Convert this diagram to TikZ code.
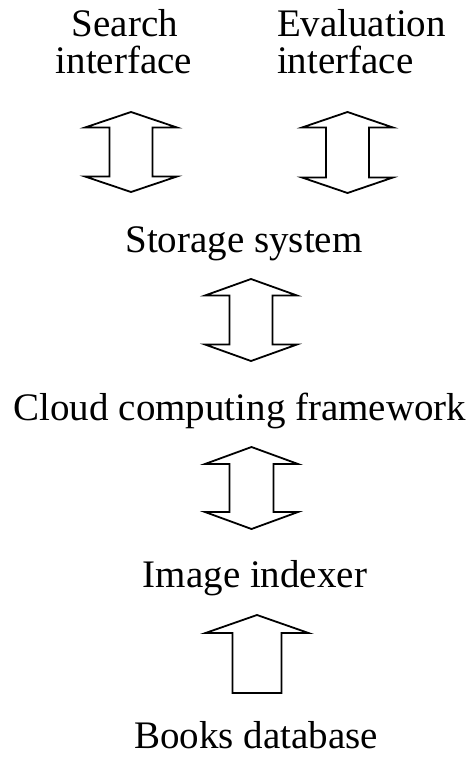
\documentclass[tikz,border=0pt]{standalone}
\usepackage{fontspec}
\setmainfont{Liberation Serif}
\tikzset{
  lbl/.style={inner sep=0pt, outer sep=0pt, font=\fontsize{39}{44}\selectfont},
  blockarrow/.style={draw=black, line width=1.8pt, fill=white, line join=miter}
}
% double arrow: cx, top, bottom, shaft half, head half, head length
\newcommand{\udblarrow}[6]{%
  \draw[blockarrow] ({#1-#4},{#2+#6}) -- ({#1-#5},{#2+#6}) -- (#1,#2) -- ({#1+#5},{#2+#6}) -- ({#1+#4},{#2+#6})
    -- ({#1+#4},{#3-#6}) -- ({#1+#5},{#3-#6}) -- (#1,#3) -- ({#1-#5},{#3-#6}) -- ({#1-#4},{#3-#6}) -- cycle;}
% single up arrow: cx, top, bottom, shaft half, head half, head length
\newcommand{\uparrowblk}[6]{%
  \draw[blockarrow] ({#1-#4},{#2+#6}) -- ({#1-#5},{#2+#6}) -- (#1,#2) -- ({#1+#5},{#2+#6}) -- ({#1+#4},{#2+#6})
    -- ({#1+#4},#3) -- ({#1-#4},#3) -- cycle;}
\begin{document}
\begin{tikzpicture}[x=1pt,y=-1pt]
\useasboundingbox (0,0) rectangle (474,759);
\node[lbl, anchor=base] (search) at (125,37) {Search};
\node[lbl, anchor=base] (searchb) at (124,74) {interface};
\node[lbl, anchor=base west] (eval) at (277,37) {Evaluation};
\node[lbl, anchor=base west] (evalb) at (277,74) {interface};
\node[lbl, anchor=base] (storage) at (244,252) {Storage system};
\node[lbl, anchor=base] (cloud) at (240,420) {Cloud computing framework};
\node[lbl, anchor=base] (indexer) at (255,587) {Image indexer};
\node[lbl, anchor=base, text depth=0pt] (books) at (256,748) {Books database};
\udblarrow{131}{112}{192}{21.5}{46}{15.5}
\udblarrow{347.5}{112}{193}{21.5}{45.5}{15.5}
\udblarrow{251}{279}{361}{21.5}{46}{16.5}
\udblarrow{251.5}{447}{529}{22}{46.5}{17}
\uparrowblk{257}{615}{693}{24.5}{51.5}{18}
\end{tikzpicture}
\end{document}
